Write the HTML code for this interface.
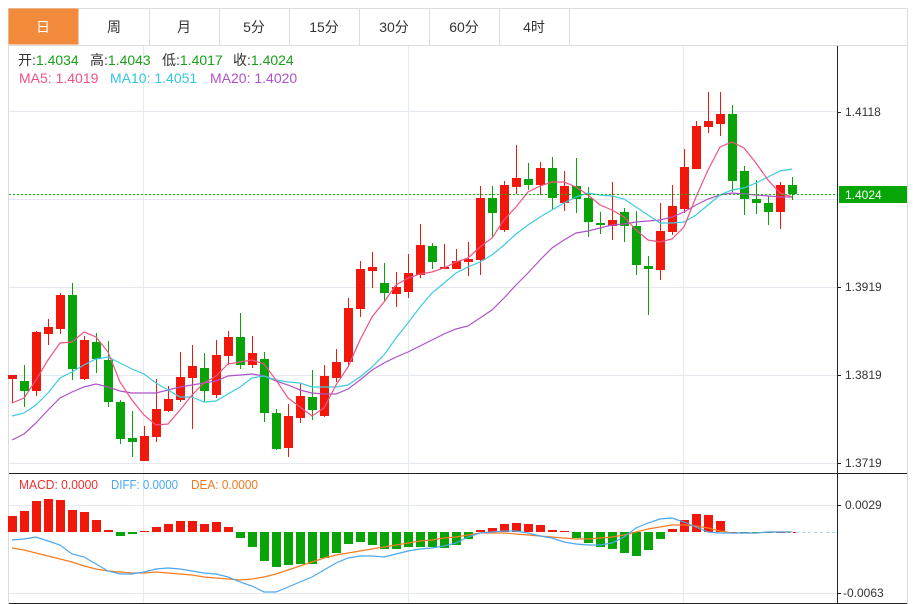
<!DOCTYPE html>
<html><head><meta charset="utf-8"><style>
html,body{margin:0;padding:0;background:#fff;}
body{width:913px;height:604px;overflow:hidden;position:relative;font-family:"Liberation Sans","Noto Sans CJK SC",sans-serif;}
svg{position:absolute;left:0;top:0;}
</style></head><body>
<svg id="s" width="913" height="604" xmlns="http://www.w3.org/2000/svg" font-family="Liberation Sans, Noto Sans CJK SC, sans-serif">
<rect x="8.5" y="8.5" width="899" height="595" fill="#fff" stroke="#ddd"/>
<rect x="8.5" y="8.5" width="70" height="36" fill="#f28a3c"/>
<g stroke="#ddd"><line x1="8" y1="45.5" x2="907" y2="45.5"/>
<line x1="149.5" y1="9" x2="149.5" y2="45"/><line x1="219.5" y1="9" x2="219.5" y2="45"/><line x1="289.5" y1="9" x2="289.5" y2="45"/><line x1="359.5" y1="9" x2="359.5" y2="45"/><line x1="429.5" y1="9" x2="429.5" y2="45"/><line x1="499.5" y1="9" x2="499.5" y2="45"/><line x1="569.5" y1="9" x2="569.5" y2="45"/></g>
<g font-size="14" text-anchor="middle" fill="#333">
<text x="43" y="32" fill="#fff">日</text><text x="114" y="32">周</text><text x="184" y="32">月</text><text x="254" y="32">5分</text><text x="324" y="32">15分</text><text x="394" y="32">30分</text><text x="464" y="32">60分</text><text x="534" y="32">4时</text></g>
<g stroke="#e3e9ef"><line x1="143.5" y1="46" x2="143.5" y2="603"/><line x1="408.5" y1="46" x2="408.5" y2="603"/><line x1="683.5" y1="46" x2="683.5" y2="603"/>
<line x1="9" y1="111.5" x2="837" y2="111.5"/><line x1="9" y1="199.5" x2="837" y2="199.5"/><line x1="9" y1="287.5" x2="837" y2="287.5"/><line x1="9" y1="375.5" x2="837" y2="375.5"/><line x1="9" y1="463.5" x2="837" y2="463.5"/>
<line x1="9" y1="505.5" x2="837" y2="505.5"/><line x1="9" y1="593.5" x2="837" y2="593.5"/></g>
<g id="c"></g>
<line x1="9" y1="194.5" x2="837" y2="194.5" stroke="#11b311" stroke-dasharray="2,2"/>
<line x1="790" y1="532.5" x2="837" y2="532.5" stroke="#a8dcf0" stroke-dasharray="3,3"/>
<g stroke="#222"><line x1="837.5" y1="46" x2="837.5" y2="604"/><line x1="9" y1="473.5" x2="907" y2="473.5"/><line x1="9" y1="603.5" x2="907" y2="603.5"/>
<line x1="837" y1="112.5" x2="841" y2="112.5"/><line x1="837" y1="287.5" x2="841" y2="287.5"/><line x1="837" y1="375.5" x2="841" y2="375.5"/><line x1="837" y1="463.5" x2="841" y2="463.5"/><line x1="837" y1="505.5" x2="841" y2="505.5"/><line x1="837" y1="593.5" x2="841" y2="593.5"/></g>
<rect x="839" y="186" width="68" height="17" fill="#07a607"/>
<g font-size="12" fill="#333"><text x="845" y="116">1.4118</text><text x="845" y="291">1.3919</text><text x="845" y="379">1.3819</text><text x="845" y="467">1.3719</text><text x="845" y="509">0.0029</text><text x="843" y="597">-0.0063</text><text x="845" y="199" fill="#fff">1.4024</text></g>
<g font-size="14"><text x="18" y="65" fill="#333">开:<tspan fill="#19a019">1.4034</tspan></text><text x="90" y="65" fill="#333">高:<tspan fill="#19a019">1.4043</tspan></text><text x="162" y="65" fill="#333">低:<tspan fill="#19a019">1.4017</tspan></text><text x="233" y="65" fill="#333">收:<tspan fill="#19a019">1.4024</tspan></text>
<text x="19" y="83" fill="#ef5287">MA5: 1.4019</text><text x="110" y="83" fill="#33c5dd">MA10: 1.4051</text><text x="210" y="83" fill="#b052c8">MA20: 1.4020</text></g>
<g font-size="13">
<text x="19" y="489" fill="#f03030" textLength="79" lengthAdjust="spacingAndGlyphs">MACD: 0.0000</text><text x="111" y="489" fill="#4aa8f0" textLength="67" lengthAdjust="spacingAndGlyphs">DIFF: 0.0000</text><text x="191" y="489" fill="#f07a20" textLength="67" lengthAdjust="spacingAndGlyphs">DEA: 0.0000</text></g>
</svg>
<script>
var R="#f2170b",G="#07a307";
var K=[["r",375,379,375,403],["g",381,391,365,407],["r",332,391,331,396],["r",327,334,319,345],["r",295,329,293,334],["g",295,369,283,380],["r",340,379,336,380],["g",342,359,333,373],["g",360,402,341,407],["g",402,439,400,444],["g",438,442,411,457],["r",436,461,426,461],["r",409,437,379,442],["r",399,411,386,412],["r",377,400,352,402],["r",366,378,345,429],["g",368,391,353,402],["r",355,395,340,398],["r",337,356,331,365],["g",337,365,313,369],["r",353,365,336,368],["g",359,413,352,422],["g",413,449,409,450],["r",416,448,404,457],["r",396,418,384,423],["g",397,410,370,420],["r",376,416,365,417],["r",362,378,349,382],["r",308,362,298,367],["r",269,309,261,317],["r",267,271,252,288],["g",283,293,263,302],["r",287,294,272,307],["r",273,292,254,298],["r",245,275,224,278],["g",246,262,243,269],["r",267,269,244,269],["r",261,269,249,269],["r",259,262,242,276],["r",198,260,186,275],["g",198,213,186,237],["r",185,230,181,232],["r",178,187,145,194],["g",179,185,163,190],["r",168,185,162,195],["g",168,198,157,209],["r",186,203,171,211],["g",186,199,158,213],["g",198,222,187,237],["g",223,225,212,234],["r",220,226,182,240],["g",212,226,208,242],["g",226,265,211,275],["g",266,269,256,315],["r",231,270,203,280],["r",206,232,185,235],["r",167,209,149,213],["r",126,169,121,169],["r",121,127,92,133],["r",114,124,92,136],["g",114,181,105,192],["g",171,199,166,215],["g",199,203,180,214],["g",203,212,196,225],["r",185,212,182,229],["g",185,194,177,200]];
var MA5=[403,398,380,360,343,342,332,337,352,382,400,415,425,424,410,395,383,376,364,362,360,364,380,398,407,416,408,385,367,340,317,302,285,278,274,272,268,262,258,247,238,220,207,192,186,182,182,187,195,205,210,217,230,240,242,239,227,197,170,147,142,148,163,180,193,197];
var MA10=[416,413,405,393,378,372,365,359,357,363,369,374,383,390,397,397,402,401,394,387,378,376,380,382,383,387,387,387,385,377,367,355,338,323,307,293,283,273,267,262,255,245,234,225,217,210,203,197,193,195,196,199,207,215,223,223,222,215,205,195,190,188,183,177,171,169];
var MA20=[440,434,423,410,398,392,387,384,387,391,393,393,393,390,387,385,383,381,376,375,374,376,381,385,390,393,394,394,389,380,370,363,357,352,346,340,334,329,326,318,310,298,285,273,260,248,240,233,231,228,225,224,222,221,220,217,212,205,199,195,193,194,195,196,197,197];
var H=[516,511,501,499,500,510,512,520,530,536,534,531,527,524,521,521,524,522,527,538,547,561,567,565,564,564,558,553,544,542,545,549,549,547,547,547,548,545,539,530,528,524,523,524,525,530,531,538,543,547,549,553,556,550,539,529,520,514,515,521,532,533,533,533,532,532];
var DIFF=[540,539,537,541,545,554,557,564,571,574,574,572,569,568,569,571,573,574,577,582,586,592,592,587,582,577,570,563,558,556,556,557,554,551,549,548,546,543,537,533,532,531,531,533,536,538,542,544,545,545,543,537,528,523,519,518,522,527,532,533,533,533,533,532,532,532];
var DEA=[548,550,553,556,559,562,566,569,571,572,573,573,572,573,574,575,577,578,579,580,579,577,574,570,566,562,558,555,553,551,549,547,545,543,541,540,538,537,535,533,533,533,534,535,536,537,538,539,539,538,537,535,532,529,527,525,525,526,528,531,533,533,533,532,532,532];
var s="";
function X(i){return 12+12*i;}
K.forEach(function(k,i){var x=X(i),c=k[0]=="r"?R:G;var h=Math.max(k[2]-k[1],2);
s+='<line x1="'+(x+.5)+'" y1="'+k[3]+'" x2="'+(x+.5)+'" y2="'+k[4]+'" stroke="'+c+'"/>';
s+='<rect x="'+(x-4)+'" y="'+k[1]+'" width="9" height="'+h+'" fill="'+c+'"/>';});
H.forEach(function(v,i){var x=X(i);var y0=532,top=Math.min(v,y0),h=Math.max(Math.abs(v-y0),1);
s+='<rect x="'+(x-4)+'" y="'+top+'" width="9" height="'+h+'" fill="'+(v<=532?R:G)+'"/>';});
function pl(a,c){var p=a.map(function(v,i){return X(i)+","+v;}).join(" ");return '<polyline points="'+p+'" fill="none" stroke="'+c+'" stroke-width="1.2"/>';}
s+=pl(MA20,"#b052c8")+pl(MA10,"#3ccbe2")+pl(MA5,"#ef5287")+pl(DEA,"#f47c22")+pl(DIFF,"#4aa8f0");
document.getElementById("c").innerHTML=s;
</script>
</body></html>
